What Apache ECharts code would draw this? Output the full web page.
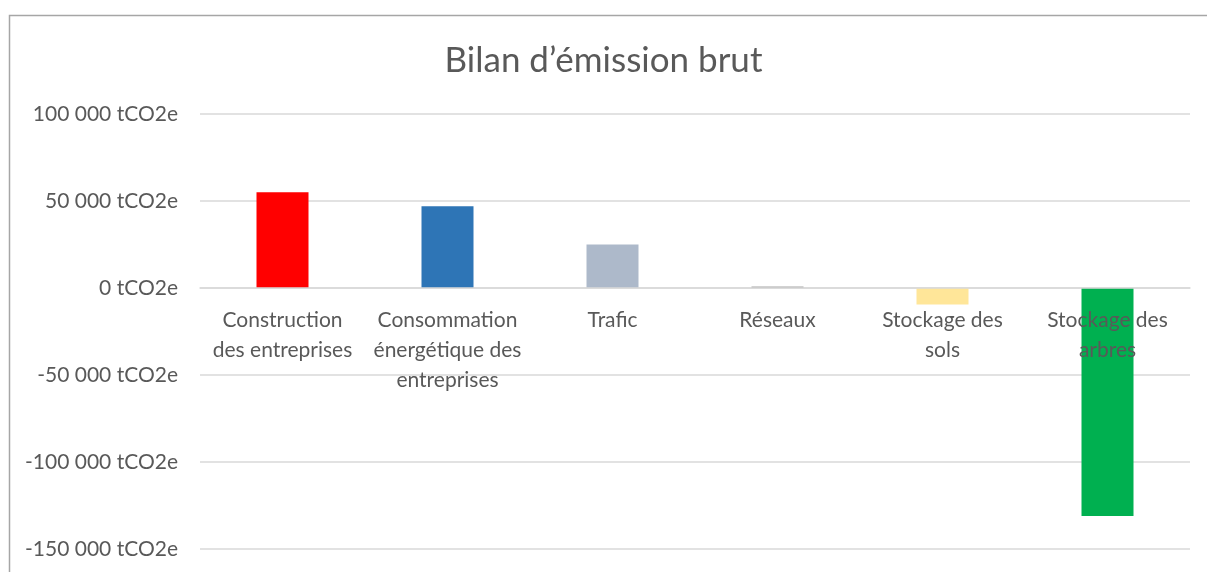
<!doctype html>
<html>
<head>
<meta charset="utf-8">
<title>Bilan d'émission brut</title>
<style type="text/css">
html, body {
  margin: 0;
  padding: 0;
  background: #fff;
}
#chart {
  width: 1207px;
  height: 572px;
}
</style>
<script type="text/javascript" src="https://cdn.jsdelivr.net/npm/echarts@6/dist/echarts.min.js"></script>
</head>
<body>
<div id="chart"></div>
<script type="text/javascript">
// postes du bilan
var categories = [
  "Construction\ndes entreprises",
  "Consommation\nénergétique des\nentreprises",
  "Trafic",
  "Réseaux",
  "Stockage des\nsols",
  "Stockage des\narbres"
];
// valeurs en tCO2e
var values = [55000, 47000, 25000, 800, -9500, -131000];
var colors = ["#FF0000", "#2E75B6", "#ADB9CA", "#A5A5A5", "#FFE699", "#00B050"];
var yTicks = { min: -150000, max: 100000, interval: 50000 };

var myChart = echarts.init(document.getElementById('chart'));

var fmt = function(v) {
  var s = Math.abs(v).toString().replace(/\B(?=(\d{3})+(?!\d))/g, ' ');
  return (v < 0 ? '-' : '') + s + ' tCO2e';
};

// hauteur de la zone de tracé et position du zéro (l'axe des catégories passe par 0)
var gridTop = 114, gridBottom = 23, chartH = 572;
var plotH = chartH - gridTop - gridBottom;
var zeroOffset = -plotH * (0 - yTicks.min) / (yTicks.max - yTicks.min);

var option = {
  backgroundColor: '#fff',
  animation: false,
  textStyle: { fontFamily: 'Lato' },
  title: {
    text: "Bilan d’émission brut",
    left: 'center',
    top: 38,
    textStyle: { fontFamily: 'Lato', fontSize: 35, fontWeight: 'normal', color: '#595959' }
  },
  graphic: [{
    type: 'rect',
    shape: { x: 9.5, y: 15.5, width: 1210, height: 600 },
    style: { fill: 'none', stroke: '#A6A6A6', lineWidth: 1.5 },
    silent: true
  }],
  grid: { left: 200, right: 17, top: gridTop, bottom: gridBottom, containLabel: false, outerBoundsMode: 'none' },
  xAxis: {
    type: 'category',
    data: categories,
    z: 5,
    offset: zeroOffset,
    axisLine: { onZero: false, lineStyle: { color: '#D9D9D9', width: 1.5 } },
    axisTick: { show: false },
    axisLabel: {
      interval: 0,
      margin: 17,
      fontFamily: 'Lato',
      fontSize: 21,
      lineHeight: 30,
      color: '#595959'
    }
  },
  yAxis: {
    type: 'value',
    min: yTicks.min,
    max: yTicks.max,
    interval: yTicks.interval,
    axisLine: { show: false },
    axisTick: { show: false },
    splitLine: { lineStyle: { color: '#D9D9D9', width: 1.5 } },
    axisLabel: {
      margin: 22,
      fontFamily: 'Lato',
      fontSize: 21,
      color: '#595959',
      formatter: fmt
    }
  },
  series: [{
    type: 'bar',
    barWidth: 52,
    z: 2,
    data: values.map(function(v, i) {
      return { value: v, itemStyle: { color: colors[i] } };
    })
  }]
};
myChart.setOption(option);
</script>
</body>
</html>
